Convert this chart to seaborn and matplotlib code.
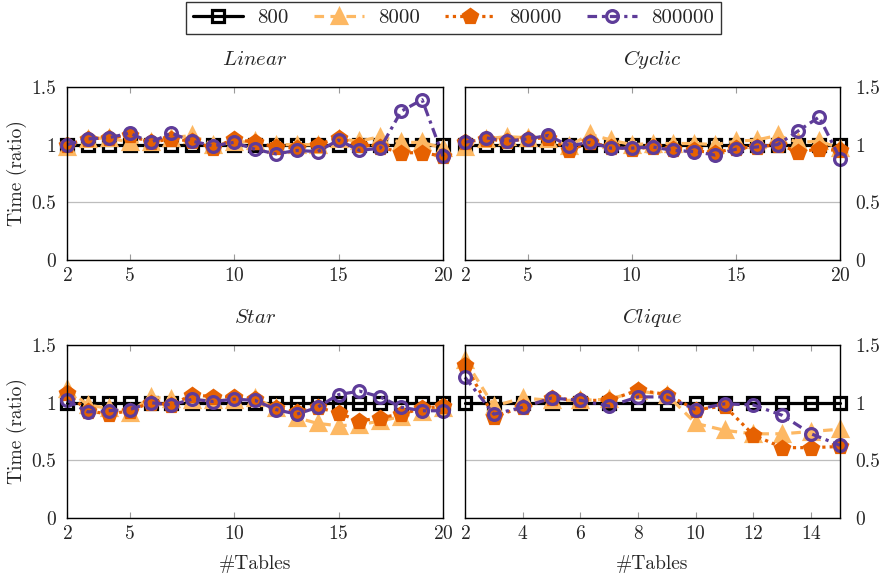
import matplotlib
matplotlib.use("Agg")
import matplotlib.pyplot as plt
import seaborn as sns
import pandas as pd

# ---- data -------------------------------------------------------------
series_names = ["800", "8000", "80000", "800000"]

x_linear = [2, 3, 4, 5, 6, 7, 8, 9, 10, 11, 12, 13, 14, 15, 16, 17, 18, 19, 20]
linear_800 = [1.0, 1.0, 1.0, 1.0, 1.0, 1.0, 1.0, 1.0, 1.0, 1.0, 1.0, 1.0, 1.0, 1.0, 1.0, 1.0, 1.0, 1.0, 1.0]
linear_8000 = [0.98, 1.05, 1.06, 1.02, 1.02, 1.06, 1.08, 1.00, 1.02, 1.03, 1.00, 1.00, 1.00, 1.05, 1.03, 1.07, 1.02, 1.02, 0.97]
linear_80000 = [1.00, 1.05, 1.06, 1.08, 1.02, 1.05, 1.03, 0.97, 1.05, 1.02, 0.98, 0.97, 1.00, 1.06, 1.00, 0.98, 0.93, 0.93, 0.90]
linear_800000 = [1.00, 1.05, 1.06, 1.10, 1.02, 1.10, 1.03, 0.99, 1.02, 0.96, 0.92, 0.95, 0.94, 1.04, 0.95, 0.97, 1.29, 1.39, 0.90]

x_cyclic = [2, 3, 4, 5, 6, 7, 8, 9, 10, 11, 12, 13, 14, 15, 16, 17, 18, 19, 20]
cyclic_800 = [1.0, 1.0, 1.0, 1.0, 1.0, 1.0, 1.0, 1.0, 1.0, 1.0, 1.0, 1.0, 1.0, 1.0, 1.0, 1.0, 1.0, 1.0, 1.0]
cyclic_8000 = [0.98, 1.05, 1.07, 1.06, 1.05, 0.99, 1.09, 1.04, 1.00, 1.01, 1.01, 1.01, 1.00, 1.03, 1.04, 1.08, 1.02, 1.03, 0.97]
cyclic_80000 = [1.02, 1.05, 1.03, 1.05, 1.06, 0.95, 1.02, 0.98, 0.96, 0.98, 0.96, 0.95, 0.93, 0.97, 0.98, 1.00, 0.94, 0.96, 0.95]
cyclic_800000 = [1.02, 1.06, 1.03, 1.05, 1.08, 0.99, 1.02, 0.97, 0.97, 0.98, 0.95, 0.94, 0.91, 0.96, 0.98, 1.00, 1.12, 1.24, 0.88]

x_star = [2, 3, 4, 5, 6, 7, 8, 9, 10, 11, 12, 13, 14, 15, 16, 17, 18, 19, 20]
star_800 = [1.0, 1.0, 1.0, 1.0, 1.0, 1.0, 1.0, 1.0, 1.0, 1.0, 1.0, 1.0, 1.0, 1.0, 1.0, 1.0, 1.0, 1.0, 1.0]
star_8000 = [1.12, 0.98, 0.95, 0.91, 1.05, 1.03, 1.02, 1.02, 1.02, 1.04, 0.95, 0.87, 0.82, 0.80, 0.81, 0.84, 0.88, 0.92, 0.95]
star_80000 = [1.08, 0.93, 0.90, 0.93, 1.00, 0.98, 1.07, 1.05, 1.05, 1.03, 0.95, 0.92, 0.96, 0.91, 0.84, 0.87, 0.90, 0.95, 0.97]
star_800000 = [1.02, 0.92, 0.93, 0.94, 1.00, 0.98, 1.03, 1.01, 1.03, 1.02, 0.94, 0.90, 0.96, 1.07, 1.10, 1.05, 0.96, 0.93, 0.93]

x_clique = [2, 3, 4, 5, 6, 7, 8, 9, 10, 11, 12, 13, 14, 15]
clique_800 = [1.0, 1.0, 1.0, 1.0, 1.0, 1.0, 1.0, 1.0, 1.0, 1.0, 1.0, 1.0, 1.0, 1.0]
clique_8000 = [1.37, 0.97, 1.04, 1.02, 1.02, 1.03, 1.10, 1.07, 0.82, 0.76, 0.73, 0.73, 0.75, 0.77]
clique_80000 = [1.33, 0.88, 0.96, 1.04, 1.02, 1.02, 1.11, 1.07, 0.94, 0.97, 0.72, 0.61, 0.61, 0.62]
clique_800000 = [1.22, 0.90, 0.96, 1.04, 1.02, 0.97, 1.05, 1.05, 0.94, 0.99, 0.98, 0.89, 0.73, 0.63]

panel_titles = ["Linear", "Cyclic", "Star", "Clique"]
y_ticks = [0, 0.5, 1, 1.5]
y_tick_labels = ["0", "0.5", "1", "1.5"]
xticks_20 = [2, 5, 10, 15, 20]
xticks_clique = [2, 4, 6, 8, 10, 12, 14]

panels = [
    (x_linear, [linear_800, linear_8000, linear_80000, linear_800000]),
    (x_cyclic, [cyclic_800, cyclic_8000, cyclic_80000, cyclic_800000]),
    (x_star, [star_800, star_8000, star_80000, star_800000]),
    (x_clique, [clique_800, clique_8000, clique_80000, clique_800000]),
]

# ---- styling ----------------------------------------------------------
sns.set_theme(style="white")
plt.rcParams["font.family"] = ["cmr10", "DejaVu Serif"]
plt.rcParams["mathtext.fontset"] = "cm"
plt.rcParams["axes.formatter.use_mathtext"] = True
FS = 14

colors = ["#000000", "#FDB863", "#E66101", "#5E3C99"]
styles = [
    dict(marker="s", markerfacecolor="none", linestyle="-", markersize=8.5),
    dict(marker="^", linestyle=(0, (3, 2)), markersize=9.5),
    dict(marker="p", linestyle=(0, (1, 1.3)), markersize=10),
    dict(marker="o", markerfacecolor="none", linestyle=(0, (3, 1.5, 1, 1.5)), markersize=8.5),
]

fig = plt.figure(figsize=(8.85, 5.81), dpi=100)
W, H = 885, 581
boxes = [
    (67, 87, 443, 260),
    (465, 87, 840, 260),
    (67, 345, 443, 518),
    (465, 345, 840, 518),
]

handles = None
for i, ((xs, ys_list), (l, t, r, b)) in enumerate(zip(panels, boxes)):
    ax = fig.add_axes([l / W, 1 - b / H, (r - l) / W, (b - t) / H])
    for name, ys, c, st in zip(series_names, ys_list, colors, styles):
        df = pd.DataFrame({"x": xs, "y": ys})
        kw = dict(st)
        kw.setdefault("markerfacecolor", c)
        sns.lineplot(data=df, x="x", y="y", ax=ax, color=c, linewidth=2.3,
                     markeredgecolor=c, markeredgewidth=2.3, label=name,
                     clip_on=False, **kw)
    if handles is None:
        handles, labels = ax.get_legend_handles_labels()
    ax.get_legend().remove()

    ax.set_xlim(xs[0], xs[-1])
    ax.set_ylim(0, 1.5)
    ax.set_yticks(y_ticks)
    ax.set_yticklabels(y_tick_labels)
    if i == 3:
        ax.set_xticks(xticks_clique)
    else:
        ax.set_xticks(xticks_20)
    ax.grid(axis="y", color="#bdbdbd", linewidth=0.9)
    ax.set_axisbelow(True)
    for sp in ax.spines.values():
        sp.set_color("black")
        sp.set_linewidth(1.0)
    ax.tick_params(axis="x", direction="in", length=4, width=0.8, color="#9a9a9a",
                   top=True, bottom=True, labelsize=FS, pad=5)
    ax.tick_params(axis="y", length=0, labelsize=FS)
    if i % 2 == 1:
        ax.yaxis.tick_right()
        ax.tick_params(axis="y", pad=11, length=0)
    else:
        ax.tick_params(axis="y", pad=8)
    ax.set_title(r"$\mathit{%s}$" % panel_titles[i], fontsize=FS + 1, pad=16)
    if i % 2 == 0:
        ax.set_ylabel("Time (ratio)", fontsize=FS, labelpad=3)
    else:
        ax.set_ylabel("")
    if i >= 2:
        ax.set_xlabel("#Tables", fontsize=FS, labelpad=9)
    else:
        ax.set_xlabel("")

leg = fig.legend(handles, labels, loc="upper center", ncol=4,
                 bbox_to_anchor=(453.5 / W, 1 - 2 / H),
                 prop=dict(family="cmr10", size=FS + 1),
                 frameon=True, fancybox=False, edgecolor="black",
                 handlelength=2.4, handletextpad=0.7, columnspacing=1.2,
                 borderpad=0.32, borderaxespad=0)
leg.get_frame().set_linewidth(1.0)

fig.savefig("out.png", dpi=100)
